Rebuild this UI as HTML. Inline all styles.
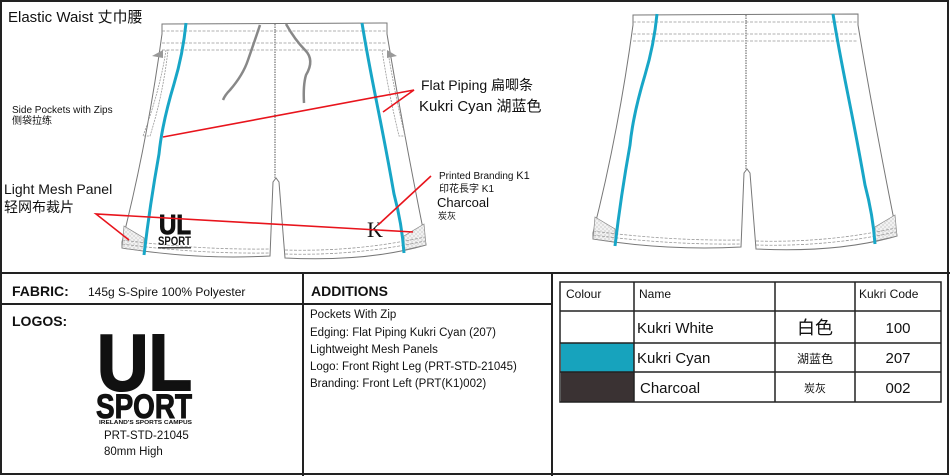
<!DOCTYPE html>
<html><head><meta charset="utf-8"><style>
body{margin:0;background:#fff}
svg{display:block}
text{font-family:"Liberation Sans","Noto Sans CJK SC",sans-serif;fill:#111}
</style></head><body>
<svg width="950" height="476" viewBox="0 0 950 476" xmlns="http://www.w3.org/2000/svg">
<defs>
<pattern id="mesh" width="4" height="4" patternUnits="userSpaceOnUse"><rect width="4" height="4" fill="#f2f2f2"/><path d="M0 0L4 4M4 0L0 4" stroke="#ccc" stroke-width="0.5"/></pattern>
<g id="shorts">
 <path d="M0 0 L225 -1 L225 10 Q240 100 263 215 L264 221 Q205 238 123 234 L117 158 L114 154 L111 158 L108 232 Q35 236 -40 224 L-40 218 Q-15 120 0 10 Z" fill="#fff" stroke="#777" stroke-width="1"/>
 <path d="M0 7 H225 M0 19 H225 M0 26 H225" stroke="#999" stroke-width="0.8" stroke-dasharray="3 1.5"/>
 <path d="M113 0 V154" stroke="#aaa" stroke-width="2" stroke-dasharray="1.5 1"/>
 <path d="M-38 202 L-18 214 L-18 227 L-40 224 Z" fill="url(#mesh)" stroke="#888" stroke-width="0.7"/>
 <path d="M262 200 L242 212 L242 226 L264 221 Z" fill="url(#mesh)" stroke="#888" stroke-width="0.7"/>
 <path d="M-40 216 Q35 226 108 225 M-40 220 Q35 230 108 229 M123 226 Q195 228 263 213 M123 230 Q195 232 263 217" stroke="#999" stroke-width="0.8" stroke-dasharray="3 1.5" fill="none"/>
 <path d="M24 -1 Q21 30 12 60 Q0 100 -3 130 Q-12 180 -18 231" stroke="#18a6c7" stroke-width="3" fill="none"/>
 <path d="M200 -1 Q205 30 215 80 Q225 130 232 170 Q240 200 242 229" stroke="#18a6c7" stroke-width="3" fill="none"/>
</g>
</defs>
<rect x="1" y="1" width="947" height="473" fill="#fff" stroke="#222" stroke-width="2"/>
<line x1="0" y1="273" x2="950" y2="273" stroke="#222" stroke-width="2"/>
<line x1="303" y1="273" x2="303" y2="476" stroke="#222" stroke-width="2"/>
<line x1="552" y1="273" x2="552" y2="476" stroke="#222" stroke-width="2"/>
<line x1="0" y1="304" x2="552" y2="304" stroke="#222" stroke-width="2"/>

<use href="#shorts" transform="translate(162,24)"/>
<path d="M163 50 L152 56 L163 58 Z" fill="#999"/>
<path d="M387 50 L397 56 L387 58 Z" fill="#999"/>
<path d="M166 50 Q160 90 143 136 L150 136 Q163 95 168 50" fill="none" stroke="#999" stroke-dasharray="2 1" stroke-width="0.8"/>
<path d="M382 50 Q388 90 399 136 L405 136 Q395 95 388 52" fill="none" stroke="#999" stroke-dasharray="2 1" stroke-width="0.8"/>
<path d="M260 25 Q255 40 248 60 Q243 75 230 90 Q225 95 223 100" stroke="#888" stroke-width="2.5" fill="none"/>
<path d="M286 24 Q295 40 305 50 Q315 60 306 75 Q303 85 304 103" stroke="#888" stroke-width="2.5" fill="none"/>
<text x="159" y="234" font-weight="900" font-size="28" fill="#111" stroke="#111" stroke-width="1" textLength="32" lengthAdjust="spacingAndGlyphs">UL</text>
<text x="158" y="245" font-weight="900" font-size="12" fill="#111" textLength="33" lengthAdjust="spacingAndGlyphs">SPORT</text>
<rect x="158" y="247" width="33" height="1.5" fill="#444"/>
<text x="367" y="237" font-size="22" fill="#111" style="font-family:'Liberation Serif'">K</text>

<use href="#shorts" transform="translate(633,15)"/>

<g stroke="#e8141c" stroke-width="1.6" fill="none">
<path d="M163 137 L414 90 L383 112"/>
<path d="M413 232 L96 214 L129 240"/>
<path d="M431 176 L378 225"/>
</g>

<text x="8" y="22" font-size="15">Elastic Waist 丈巾腰</text>
<text x="12" y="113" font-size="10">Side Pockets with Zips</text>
<text x="12" y="124" font-size="10">侧袋拉练</text>
<text x="4" y="194" font-size="14">Light Mesh Panel</text>
<text x="4" y="212" font-size="14">轻网布裁片</text>
<text x="421" y="90" font-size="14">Flat Piping 扁唧条</text>
<text x="419" y="111" font-size="15">Kukri Cyan 湖蓝色</text>
<text x="439" y="179" font-size="10">Printed Branding <tspan font-size="11">K1</tspan></text>
<text x="439" y="192" font-size="10">印花長字 K1</text>
<text x="437" y="207" font-size="13">Charcoal</text>
<text x="438" y="219" font-size="9">炭灰</text>

<text x="12" y="296" font-size="14" font-weight="bold">FABRIC:</text>
<text x="88" y="296" font-size="12">145g S-Spire 100% Polyester</text>
<text x="12" y="326" font-size="14" font-weight="bold">LOGOS:</text>
<text x="97" y="390" font-weight="900" font-size="80" fill="#111" stroke="#111" stroke-width="2" textLength="95" lengthAdjust="spacingAndGlyphs">UL</text>
<text x="96" y="418" font-weight="900" font-size="34" fill="#111" stroke="#111" stroke-width="1" textLength="96" lengthAdjust="spacingAndGlyphs">SPORT</text>
<text x="99" y="424" font-weight="bold" font-size="5.5" textLength="93" lengthAdjust="spacingAndGlyphs">IRELAND'S SPORTS CAMPUS</text>
<text x="104" y="439" font-size="11.5">PRT-STD-21045</text>
<text x="104" y="455" font-size="11.5">80mm High</text>

<text x="311" y="296" font-size="14" font-weight="bold">ADDITIONS</text>
<text x="310" y="318" font-size="11.5">Pockets With Zip</text>
<text x="310" y="336" font-size="11.5">Edging: Flat Piping Kukri Cyan (207)</text>
<text x="310" y="353" font-size="11.5">Lightweight Mesh Panels</text>
<text x="310" y="370" font-size="11.5">Logo: Front Right Leg (PRT-STD-21045)</text>
<text x="310" y="387" font-size="11.5">Branding: Front Left (PRT(K1)002)</text>

<rect x="561" y="343" width="73" height="29" fill="#17a3bd"/>
<rect x="561" y="372" width="73" height="30" fill="#3a3233"/>
<g stroke="#222" stroke-width="1.5" fill="none">
<rect x="560" y="282" width="381" height="120"/>
<path d="M560 311 H941 M560 343 H941 M560 372 H941 M634 282 V402 M775 282 V402 M855 282 V402"/>
</g>
<text x="566" y="298" font-size="12">Colour</text>
<text x="639" y="298" font-size="12">Name</text>
<text x="859" y="298" font-size="12">Kukri Code</text>
<text x="637" y="333" font-size="15">Kukri White</text>
<text x="637" y="363" font-size="15">Kukri Cyan</text>
<text x="640" y="393" font-size="15">Charcoal</text>
<text x="815" y="334" font-size="18" text-anchor="middle">白色</text>
<text x="815" y="363" font-size="12" text-anchor="middle">湖蓝色</text>
<text x="815" y="392" font-size="11" text-anchor="middle">炭灰</text>
<text x="898" y="333" font-size="15" text-anchor="middle">100</text>
<text x="898" y="363" font-size="15" text-anchor="middle">207</text>
<text x="898" y="393" font-size="15" text-anchor="middle">002</text>
</svg>
</body></html>
